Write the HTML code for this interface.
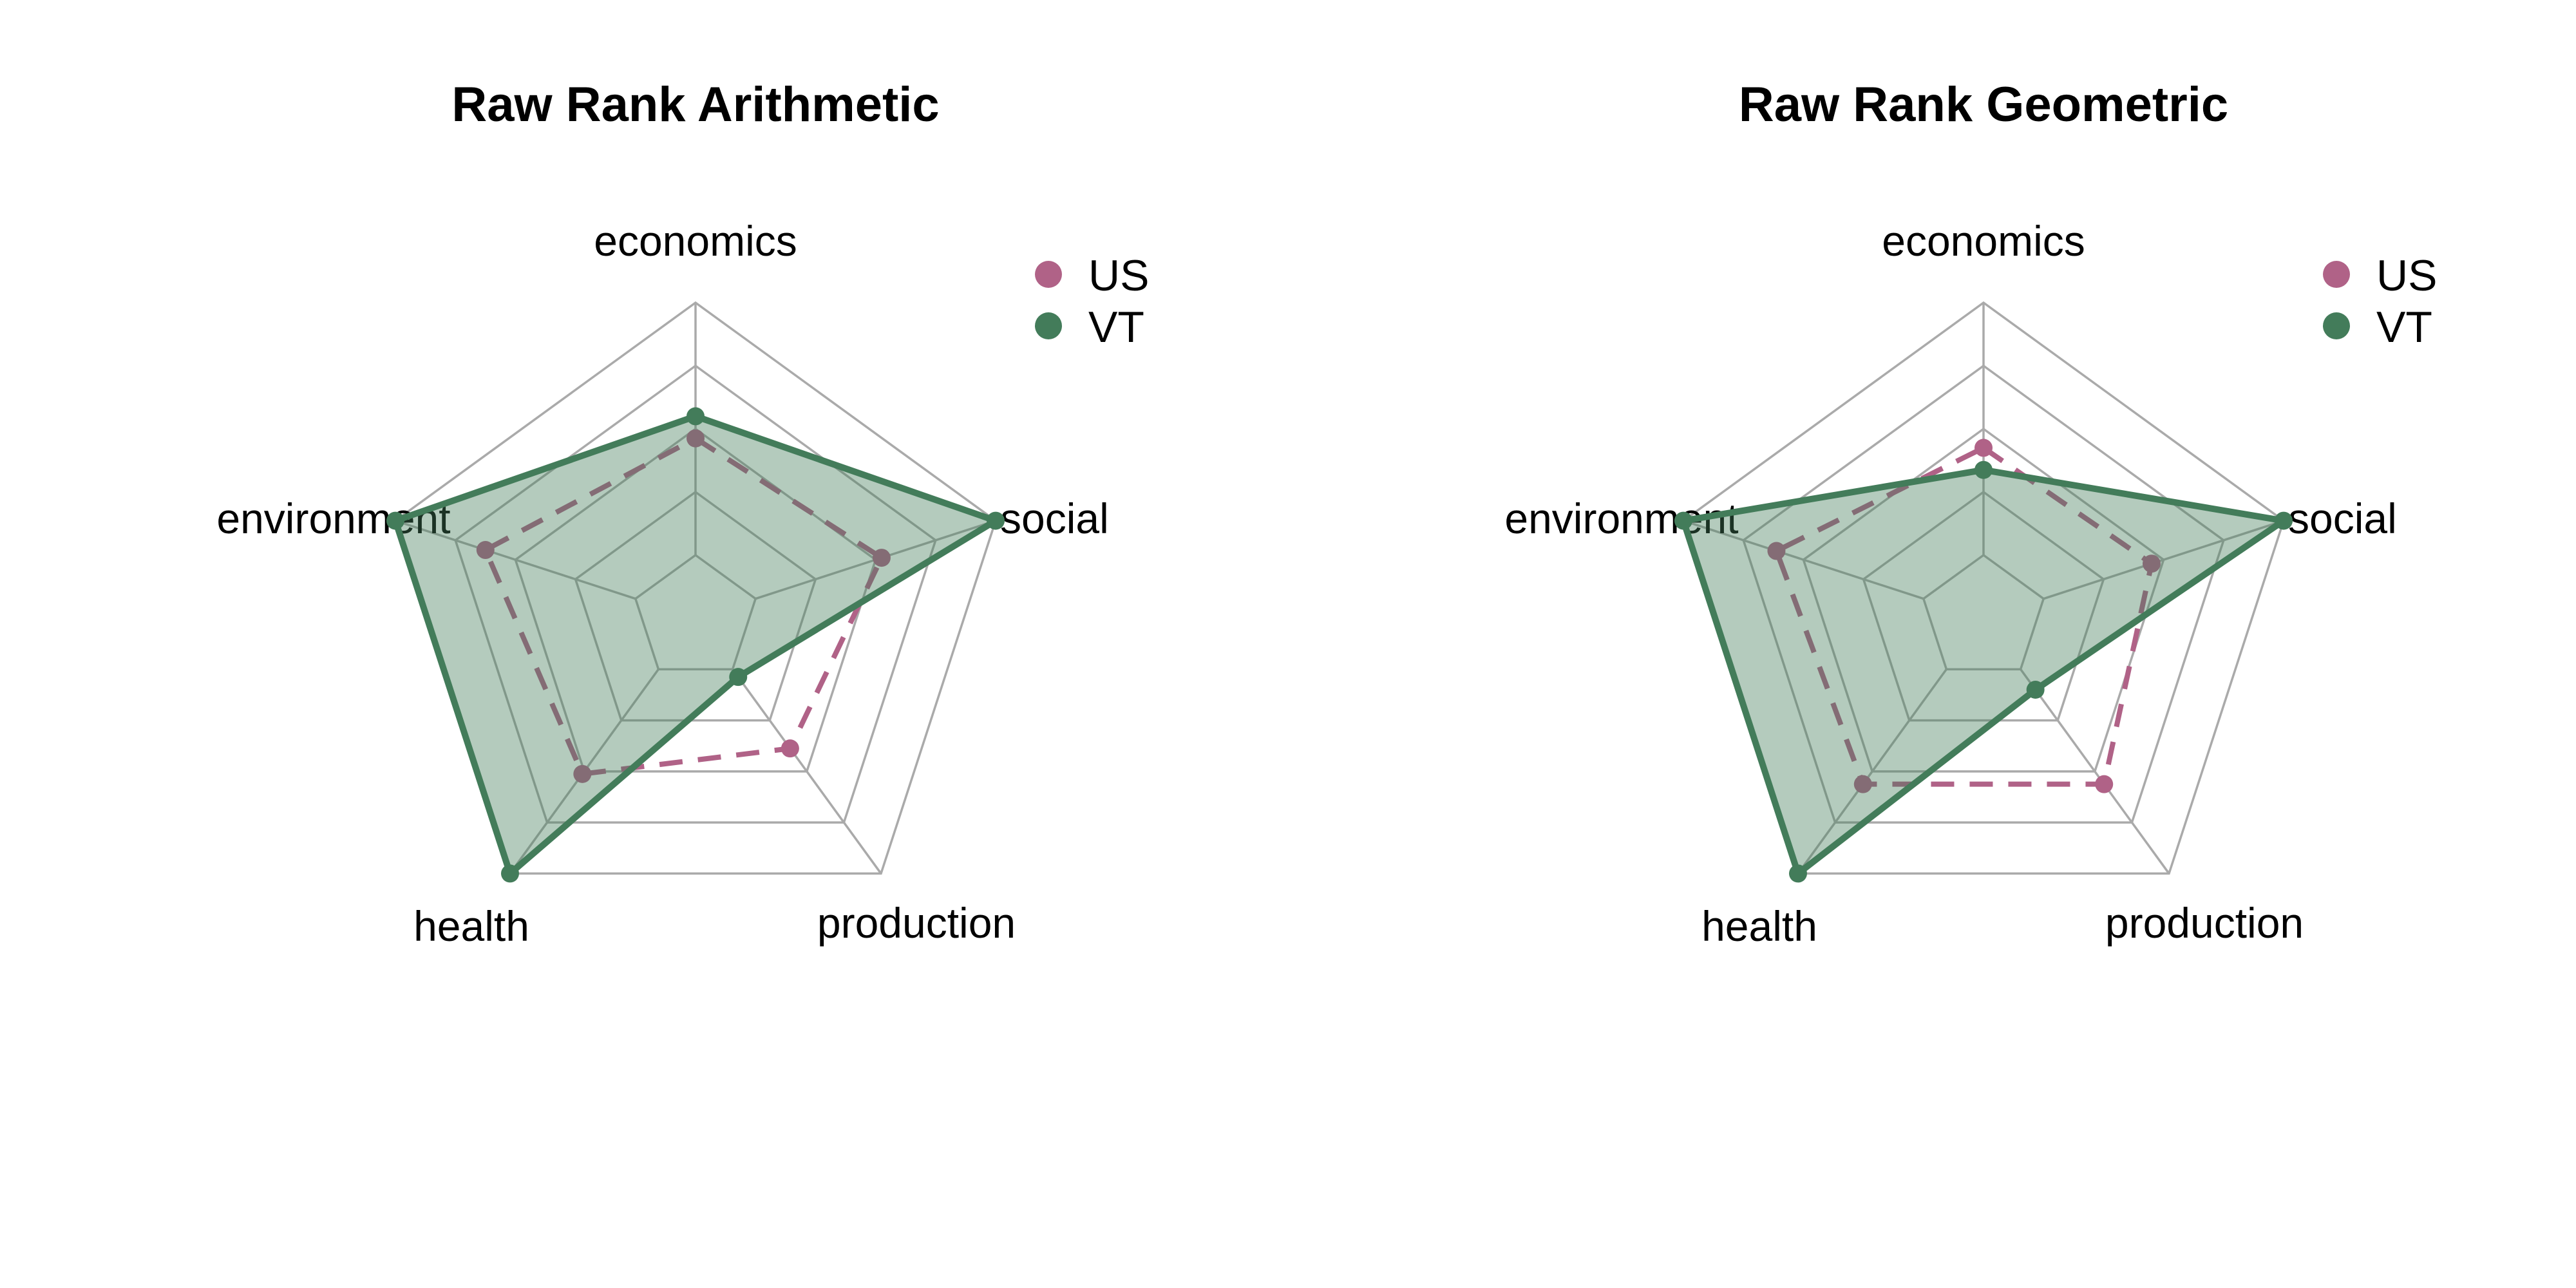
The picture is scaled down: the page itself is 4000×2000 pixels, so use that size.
<!DOCTYPE html>
<html><head><meta charset="utf-8"><style>
html,body{margin:0;padding:0;background:#fff;}
svg{display:block;font-family:"Liberation Sans",Arial,sans-serif;}
</style></head><body>
<svg id="chart" width="4000" height="2000" viewBox="0 0 4000 2000" xmlns="http://www.w3.org/2000/svg"></svg>
<script>
const axes = ["economics","social","production","health","environment"];
const titles = ["Raw Rank Arithmetic","Raw Rank Geometric"];
const usArith = [0.57,0.62,0.51,0.61,0.70];
const vtArith = [0.64,1.0,0.23,1.0,1.0];
const usGeom = [0.54,0.56,0.65,0.65,0.69];
const vtGeom = [0.47,1.0,0.28,1.0,1.0];
const gridLevels = [0.2,0.4,0.6,0.8,1.0];
const seriesNames = ["US","VT"];

const NS="http://www.w3.org/2000/svg";
const svg=document.getElementById('chart');
const US_C="#b06287", VT_C="#437c5a";
const R=490, CY=960;
function mk(tag,attrs,parent){const e=document.createElementNS(NS,tag);for(const k in attrs)e.setAttribute(k,attrs[k]);(parent||svg).appendChild(e);return e;}
function pt(cx,i,v){const a=-Math.PI/2+i*2*Math.PI/axes.length;return [cx+R*v*Math.cos(a),CY+R*v*Math.sin(a)];}
const labelPos=[[0,-585,'middle'],[473,-154,'start'],[343,474,'middle'],[-348,479,'middle'],[-562,-154,'middle']];

function panel(cx,title,us,vt,idx){
  const g=mk('g',{});
  
  
  const t=mk('text',{x:cx,y:188,'text-anchor':'middle','font-size':76,'font-weight':'bold',fill:'#000'},g);
  t.textContent=title;
  
  
  gridLevels.forEach(l=>{
    const p=axes.map((_,i)=>pt(cx,i,l).join(',')).join(' ');
    const e=mk('polygon',{points:p,fill:'none',stroke:'#aaaaaa','stroke-width':3.5},g);
    
    
  });
  axes.forEach((a,i)=>{
    const [x,y]=pt(cx,i,1);const [x0,y0]=pt(cx,i,0.2);
    const e=mk('line',{x1:x0,y1:y0,x2:x,y2:y,stroke:'#aaaaaa','stroke-width':3.5},g);
    
    
    const lp=labelPos[i];
    const tx=mk('text',{x:cx+lp[0],y:CY+lp[1]+22,'text-anchor':lp[2],'font-size':66,fill:'#000'},g);
    tx.textContent=a;
    
    
  });
  // US series
  const up=us.map((v,i)=>pt(cx,i,v));
  const ul=mk('polygon',{points:up.map(p=>p.join(',')).join(' '),fill:'none',stroke:US_C,'stroke-width':8,'stroke-dasharray':'36 24'},g);
  
  
  up.forEach(p=>{const c=mk('circle',{cx:p[0],cy:p[1],r:14,fill:US_C},g);
    
    });
  // VT series
  const vp=vt.map((v,i)=>pt(cx,i,v));
  const vf=mk('polygon',{points:vp.map(p=>p.join(',')).join(' '),fill:'rgba(67,124,90,0.4)',stroke:'none'},g);
  
  
  const vl=mk('polygon',{points:vp.map(p=>p.join(',')).join(' '),fill:'none',stroke:VT_C,'stroke-width':10,'stroke-linejoin':'round'},g);
  
  
  vp.forEach(p=>{const c=mk('circle',{cx:p[0],cy:p[1],r:14,fill:VT_C},g);
    
    });
  // legend
  [US_C,VT_C].forEach((col,k)=>{
    const c=mk('circle',{cx:cx+548,cy:426+k*80,r:21,fill:col},g);
    
    
    const tx=mk('text',{x:cx+610,y:451+k*80,'font-size':68,fill:'#000'},g);
    tx.textContent=seriesNames[k];
    
    
  });
}
panel(1080,titles[0],usArith,vtArith,0);
panel(3080,titles[1],usGeom,vtGeom,1);
</script>
</body></html>
